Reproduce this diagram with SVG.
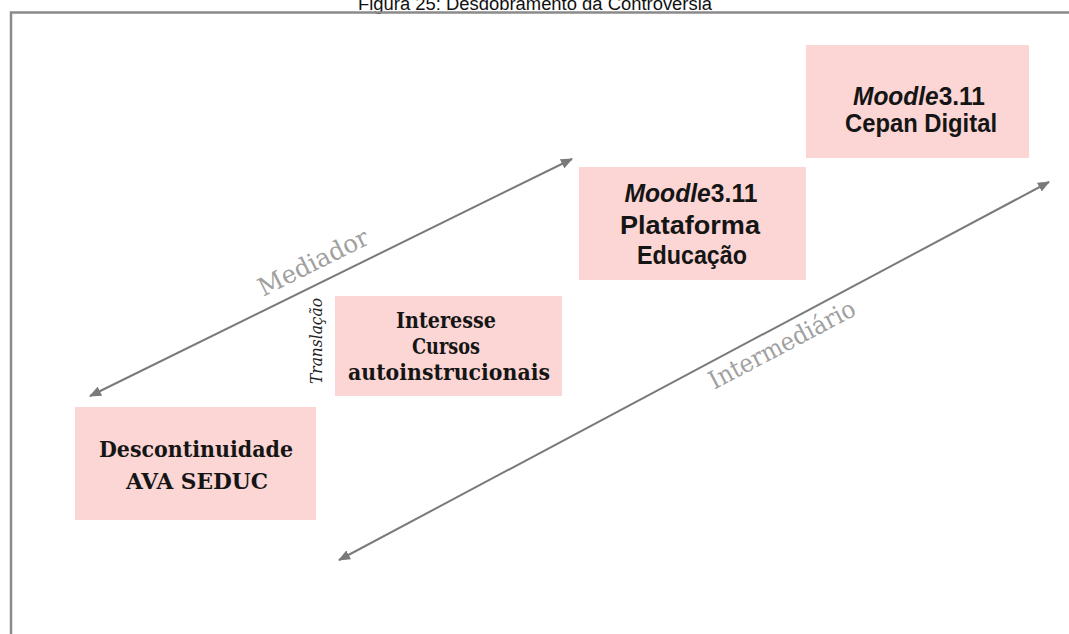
<svg xmlns="http://www.w3.org/2000/svg" width="1069" height="634" viewBox="0 0 1069 634">
<style>
.box{fill:#fbd6d4}
.serifb{font-family:"DejaVu Serif","Liberation Serif",serif;font-weight:bold;font-size:23px;fill:#151515;text-anchor:middle}
.sans{font-family:"Liberation Sans",Arial,sans-serif;font-weight:bold;font-size:25px;fill:#151515;text-anchor:middle}
.lbl{font-family:"DejaVu Serif","Liberation Serif",serif;font-size:25px;fill:#a0a0a0;text-anchor:middle}
.conn{stroke:#7a7a7a;stroke-width:2;fill:none;marker-start:url(#ah);marker-end:url(#ah)}
</style>
<defs>
<marker id="ah" viewBox="0 0 12 10" refX="11" refY="5" markerWidth="12" markerHeight="10" markerUnits="userSpaceOnUse" orient="auto-start-reverse">
<path d="M0,0 L12,5 L0,10 z" fill="#7a7a7a"/>
</marker>
</defs>
<rect width="1069" height="634" fill="#ffffff"/>
<text x="535" y="10" font-family="Liberation Sans,Arial,sans-serif" font-size="18" fill="#111" text-anchor="middle" textLength="354" lengthAdjust="spacingAndGlyphs">Figura 25: Desdobramento da Controvérsia</text>
<path d="M11,634 L11,12.5 L1069,12.5" stroke="#8a8a8a" stroke-width="2.5" fill="none"/>
<g id="connectors">
<line class="conn" x1="90" y1="396" x2="572" y2="159"/>
<line class="conn" x1="339" y1="560" x2="1049" y2="182"/>
<text class="lbl" transform="translate(317,270) rotate(-26.5)" textLength="120" lengthAdjust="spacingAndGlyphs">Mediador</text>
<text class="lbl" transform="translate(786,352) rotate(-27.8)" textLength="162" lengthAdjust="spacingAndGlyphs">Intermediário</text>
<text transform="translate(322,341) rotate(-90)" font-family="DejaVu Serif,Liberation Serif,serif" font-style="italic" font-size="16" fill="#222" text-anchor="middle" textLength="86" lengthAdjust="spacingAndGlyphs">Translação</text>
</g>
<g id="n-descontinuidade">
<rect class="box" x="75" y="407" width="241" height="113"/>
<text class="serifb" x="196" y="457" textLength="194" lengthAdjust="spacingAndGlyphs">Descontinuidade</text>
<text class="serifb" x="197" y="489" textLength="142" lengthAdjust="spacingAndGlyphs">AVA SEDUC</text>
</g>
<g id="n-interesse">
<rect class="box" x="335" y="296" width="227" height="100"/>
<text class="serifb" x="446" y="328" textLength="100" lengthAdjust="spacingAndGlyphs">Interesse</text>
<text class="serifb" x="446" y="354" textLength="68" lengthAdjust="spacingAndGlyphs">Cursos</text>
<text class="serifb" x="449" y="380" textLength="202" lengthAdjust="spacingAndGlyphs">autoinstrucionais</text>
</g>
<g id="n-plataforma">
<rect class="box" x="579" y="167" width="227" height="113"/>
<text class="sans" x="691" y="202" textLength="133" lengthAdjust="spacingAndGlyphs"><tspan font-style="italic">Moodle</tspan>3.11</text>
<text class="sans" x="690" y="234" textLength="140" lengthAdjust="spacingAndGlyphs">Plataforma</text>
<text class="sans" x="692" y="264" textLength="110" lengthAdjust="spacingAndGlyphs">Educação</text>
</g>
<g id="n-cepan">
<rect class="box" x="806" y="45" width="223" height="113"/>
<text class="sans" x="919" y="105" textLength="132" lengthAdjust="spacingAndGlyphs"><tspan font-style="italic">Moodle</tspan>3.11</text>
<text class="sans" x="921" y="132" textLength="152" lengthAdjust="spacingAndGlyphs">Cepan Digital</text>
</g>
</svg>
